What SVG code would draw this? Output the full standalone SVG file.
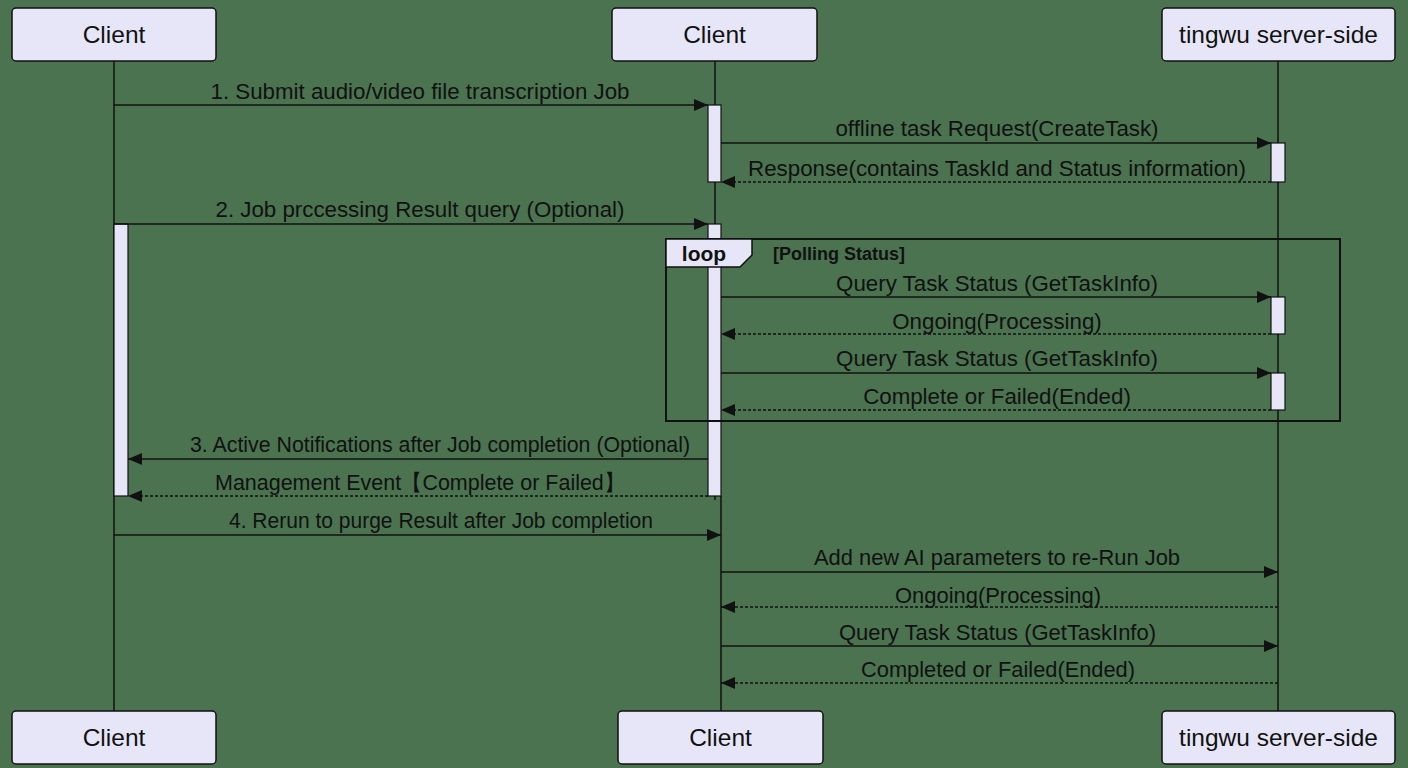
<svg xmlns="http://www.w3.org/2000/svg" width="1408" height="768" viewBox="0 0 1408 768">
<defs>
<style>
.bg{fill:#4b7350}
.actor rect{fill:#e6e6f8;stroke:#111;stroke-width:1.5}
.actor text{font-family:"Liberation Sans",Arial,sans-serif;font-size:24.5px;fill:#111;text-anchor:middle}
.life{stroke:#111;stroke-width:1.5;fill:none}
.act{fill:#e6e6f8;stroke:#111;stroke-width:1.2}
.msg{stroke:#111;stroke-width:1.6;fill:none}
.dash{stroke-dasharray:3,2}
.lbl{font-family:"Liberation Sans",Arial,sans-serif;font-size:22.3px;fill:#111;text-anchor:middle}
.loopbox{fill:none;stroke:#111;stroke-width:2}
.looplbl{fill:#e6e6f8;stroke:#111;stroke-width:1.5}
</style>
<marker id="ah" viewBox="0 0 14 12" refX="14" refY="6" markerWidth="14" markerHeight="12" markerUnits="userSpaceOnUse" orient="auto">
<path d="M0,0 L14,6 L0,12 Z" fill="#111"/>
</marker>
</defs>
<rect class="bg" x="0" y="0" width="1408" height="768"/>

<g id="lifelines">
<line class="life" x1="114" y1="61" x2="114" y2="711"/>
<line class="life" x1="715" y1="61" x2="715" y2="500"/>
<line class="life" x1="721" y1="496" x2="721" y2="711"/>
<line class="life" x1="1278" y1="61" x2="1278" y2="711"/>
</g>

<g id="activations">
<rect class="act" x="708" y="105" width="13" height="77"/>
<rect class="act" x="1271" y="143" width="14" height="39"/>
<rect class="act" x="114" y="224" width="14" height="272"/>
<rect class="act" x="708" y="224" width="13" height="272"/>
<rect class="act" x="1271" y="297" width="14" height="37"/>
<rect class="act" x="1271" y="373" width="14" height="37"/>
</g>

<g id="loop">
<rect class="loopbox" x="666" y="239" width="674" height="182"/>
<path class="looplbl" d="M666,239 H752 V255 L740,267 H666 Z"/>
<text x="704" y="261" font-family="Liberation Sans,Arial,sans-serif" font-size="21" font-weight="bold" fill="#111" text-anchor="middle">loop</text>
<text x="773" y="260" font-family="Liberation Sans,Arial,sans-serif" font-size="18" font-weight="bold" fill="#111">[Polling Status]</text>
</g>

<g id="actor-client-a-top" class="actor"><rect x="12" y="8" width="204" height="53" rx="4"/><text x="114" y="43">Client</text></g>
<g id="actor-client-b-top" class="actor"><rect x="612" y="8" width="205" height="53" rx="4"/><text x="714.5" y="43">Client</text></g>
<g id="actor-server-top" class="actor"><rect x="1162" y="8" width="233" height="53" rx="4"/><text x="1278.5" y="43">tingwu server-side</text></g>
<g id="actor-client-a-bottom" class="actor"><rect x="12" y="711" width="204" height="53" rx="4"/><text x="114" y="746">Client</text></g>
<g id="actor-client-b-bottom" class="actor"><rect x="618" y="711" width="205" height="53" rx="4"/><text x="720.5" y="746">Client</text></g>
<g id="actor-server-bottom" class="actor"><rect x="1162" y="711" width="233" height="53" rx="4"/><text x="1278.5" y="746">tingwu server-side</text></g>

<g id="connectors">
<line class="msg" x1="114" y1="105" x2="708" y2="105" marker-end="url(#ah)"/>
<text class="lbl" x="420" y="99">1. Submit audio/video file transcription Job</text>
<line class="msg" x1="721" y1="143" x2="1271" y2="143" marker-end="url(#ah)"/>
<text class="lbl" x="997" y="136">offline task Request(CreateTask)</text>
<line class="msg dash" x1="1271" y1="182" x2="721" y2="182" marker-end="url(#ah)"/>
<text class="lbl" x="997" y="176">Response(contains TaskId and Status information)</text>
<line class="msg" x1="114" y1="224" x2="708" y2="224" marker-end="url(#ah)"/>
<text class="lbl" x="420" y="217">2. Job prccessing Result query (Optional)</text>
<line class="msg" x1="721" y1="297" x2="1271" y2="297" marker-end="url(#ah)"/>
<text class="lbl" x="997" y="291">Query Task Status (GetTaskInfo)</text>
<line class="msg dash" x1="1271" y1="334" x2="721" y2="334" marker-end="url(#ah)"/>
<text class="lbl" x="997" y="329">Ongoing(Processing)</text>
<line class="msg" x1="721" y1="373" x2="1271" y2="373" marker-end="url(#ah)"/>
<text class="lbl" x="997" y="366">Query Task Status (GetTaskInfo)</text>
<line class="msg dash" x1="1271" y1="410" x2="721" y2="410" marker-end="url(#ah)"/>
<text class="lbl" x="997" y="404">Complete or Failed(Ended)</text>
<line class="msg" x1="708" y1="459" x2="128" y2="459" marker-end="url(#ah)"/>
<text class="lbl" x="440" y="452" textLength="500" lengthAdjust="spacingAndGlyphs">3. Active Notifications after Job completion (Optional)</text>
<line class="msg dash" x1="708" y1="496" x2="128" y2="496" marker-end="url(#ah)"/>
<text class="lbl" x="420" y="490" textLength="410" lengthAdjust="spacingAndGlyphs">Management Event【Complete or Failed】</text>
<line class="msg" x1="114" y1="535" x2="721" y2="535" marker-end="url(#ah)"/>
<text class="lbl" x="441" y="528" textLength="424" lengthAdjust="spacingAndGlyphs">4. Rerun to purge Result after Job completion</text>
<line class="msg" x1="721" y1="572" x2="1278" y2="572" marker-end="url(#ah)"/>
<text class="lbl" x="997" y="565" textLength="366" lengthAdjust="spacingAndGlyphs">Add new AI parameters to re-Run Job</text>
<line class="msg dash" x1="1278" y1="607" x2="721" y2="607" marker-end="url(#ah)"/>
<text class="lbl" x="998" y="603" textLength="206" lengthAdjust="spacingAndGlyphs">Ongoing(Processing)</text>
<line class="msg" x1="721" y1="646" x2="1278" y2="646" marker-end="url(#ah)"/>
<text class="lbl" x="997.5" y="640" textLength="317" lengthAdjust="spacingAndGlyphs">Query Task Status (GetTaskInfo)</text>
<line class="msg dash" x1="1278" y1="683" x2="721" y2="683" marker-end="url(#ah)"/>
<text class="lbl" x="998" y="677" textLength="274" lengthAdjust="spacingAndGlyphs">Completed or Failed(Ended)</text>
</g>
</svg>
